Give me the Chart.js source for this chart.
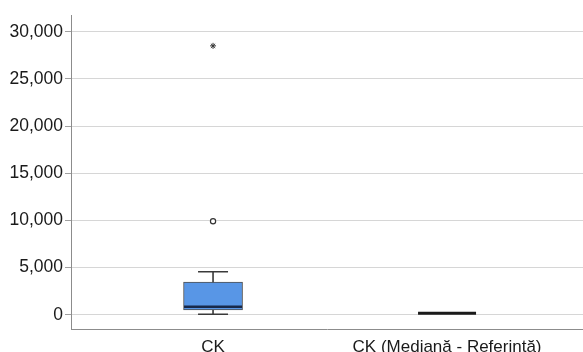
<!DOCTYPE html>
<html>
<head>
<meta charset="utf-8">
<script src="https://cdn.jsdelivr.net/npm/chart.js@4"></script>
<style>
  html, body { margin: 0; padding: 0; background: #fff; }
  #wrap { width: 583px; height: 352px; position: relative; }
</style>
</head>
<body>
<div id="wrap"><canvas id="c"></canvas></div>
<script>
// Box plot summary per group
const categories   = ['CK', 'CK (Mediană - Referință)'];
const whiskerLow   = [40, 150];
const q1           = [500, 150];
const median       = [850, 150];
const q3           = [3450, 150];
const whiskerHigh  = [4550, 150];
// Outliers: circles (mild) and stars (extreme), as [groupIndex, value]
const mildOutliers    = [[0, 9900]];
const extremeOutliers = [[0, 28500]];
const yTicks = [0, 5000, 10000, 15000, 20000, 25000, 30000];

const FONT = "'Liberation Sans', Arial, sans-serif";

// Whiskers, caps and median lines drawn over the box bars
const boxPlotPlugin = {
  id: 'boxPlotLines',
  afterDatasetsDraw(chart) {
    const ctx = chart.ctx;
    const xs = chart.scales.x, ys = chart.scales.y;
    const boxHalf = 29.5, capHalf = 15;
    categories.forEach((_, i) => {
      const cx = xs.getPixelForValue(i);
      const yLo = ys.getPixelForValue(whiskerLow[i]);
      const yQ1 = ys.getPixelForValue(q1[i]);
      const yMed = ys.getPixelForValue(median[i]);
      const yQ3 = ys.getPixelForValue(q3[i]);
      const yHi = ys.getPixelForValue(whiskerHigh[i]);
      ctx.save();
      ctx.strokeStyle = '#3a3a3a';
      ctx.lineWidth = 1.6;
      ctx.beginPath();
      if (whiskerHigh[i] > q3[i]) {
        ctx.moveTo(cx, yQ3); ctx.lineTo(cx, yHi);
        ctx.moveTo(cx - capHalf, yHi); ctx.lineTo(cx + capHalf, yHi);
      }
      if (whiskerLow[i] < q1[i]) {
        ctx.moveTo(cx, yQ1); ctx.lineTo(cx, yLo);
        ctx.moveTo(cx - capHalf, yLo); ctx.lineTo(cx + capHalf, yLo);
      }
      ctx.stroke();
      // median
      ctx.beginPath();
      const collapsed = q3[i] === q1[i];
      ctx.strokeStyle = collapsed ? '#1a1a1a' : '#17284a';
      ctx.lineWidth = collapsed ? 3 : 2.5;
      ctx.moveTo(cx - boxHalf + 0.5, yMed);
      ctx.lineTo(cx + boxHalf - 0.5, yMed);
      ctx.stroke();
      ctx.restore();
    });
  }
};

new Chart(document.getElementById('c'), {
  data: {
    datasets: [
      {
        type: 'bar',
        data: categories.map((_, i) => ({ x: i, y: [q1[i], q3[i]] })),
        backgroundColor: '#5896e6',
        borderColor: '#4f4f4f',
        borderWidth: 1,
        borderSkipped: false,
        barThickness: 59,
        order: 2
      },
      {
        type: 'scatter',
        data: mildOutliers.map(p => ({ x: p[0], y: p[1] })),
        pointStyle: 'circle',
        radius: 2.6,
        backgroundColor: '#ffffff',
        borderColor: '#333333',
        borderWidth: 1.2,
        order: 1
      },
      {
        type: 'scatter',
        data: extremeOutliers.map(p => ({ x: p[0], y: p[1] })),
        pointStyle: 'star',
        radius: 3,
        borderColor: '#333333',
        borderWidth: 1,
        order: 1
      }
    ]
  },
  options: {
    responsive: true,
    maintainAspectRatio: false,
    animation: false,
    layout: { autoPadding: false, padding: { top: 15, right: 0, left: 0, bottom: 0 } },
    plugins: { legend: { display: false }, tooltip: { enabled: false } },
    scales: {
      x: {
        type: 'linear',
        offset: false,
        min: -0.607,
        max: 1.581,
        afterBuildTicks: s => { s.ticks = categories.map((_, i) => ({ value: i })); },
        afterFit: s => { s.height = 23; s.paddingLeft = 0; s.paddingRight = 0; },
        grid: { display: false, drawTicks: false, offset: false },
        border: { display: true, color: '#8c8c8c', width: 1 },
        ticks: {
          autoSkip: false, maxRotation: 0, padding: 8,
          color: '#1a1a1a',
          font: { family: FONT, size: 17 },
          callback: v => categories[v]
        }
      },
      y: {
        type: 'linear',
        min: -1516,
        max: 31770,
        afterBuildTicks: s => { s.ticks = yTicks.map(v => ({ value: v })); },
        afterFit: s => { s.width = 71; s.paddingTop = 0; s.paddingBottom = 0; },
        grid: { color: '#d6d6d6', lineWidth: 1, tickLength: 6, tickColor: '#a0a0a0' },
        border: { display: true, color: '#8c8c8c', width: 1 },
        ticks: {
          padding: 2,
          color: '#1a1a1a',
          font: { family: FONT, size: 17.5 },
          callback: v => v.toLocaleString('en-US')
        }
      }
    }
  },
  plugins: [boxPlotPlugin]
});
</script>
</body>
</html>
